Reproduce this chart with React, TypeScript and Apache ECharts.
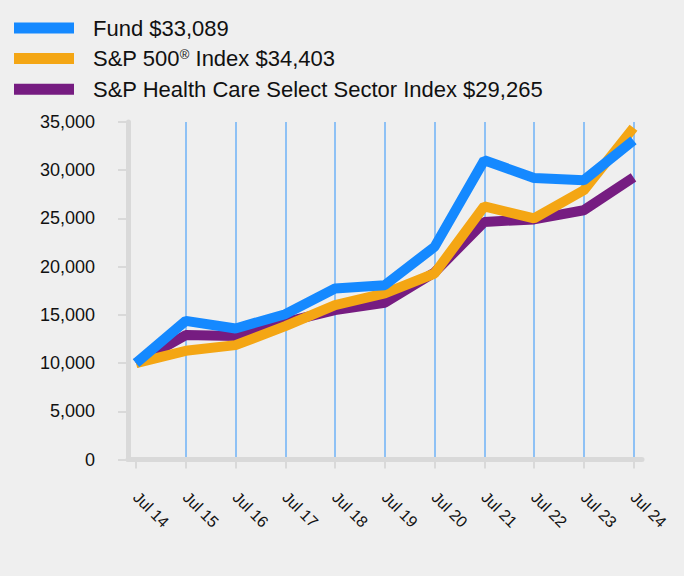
import React, { useEffect, useRef } from "react";
import * as echarts from "echarts";

const categories = ["Jul 14", "Jul 15", "Jul 16", "Jul 17", "Jul 18", "Jul 19", "Jul 20", "Jul 21", "Jul 22", "Jul 23", "Jul 24"];
const fundValues = [10000, 14380, 13590, 15070, 17740, 18080, 22050, 31030, 29200, 28960, 33089];
const sp500Values = [10000, 11270, 11860, 13830, 16010, 17220, 19290, 26260, 25000, 27920, 34403];
const healthValues = [10000, 12900, 12800, 14250, 15490, 16250, 19400, 24640, 24900, 25850, 29265];
const seriesNames = ["Fund $33,089", "S&P 500® Index $34,403", "S&P Health Care Select Sector Index $29,265"];
const yMin = 0;
const yMax = 35000;
const yInterval = 5000;

const FONT = "'Liberation Sans', Arial, Helvetica, sans-serif";
const COLORS = ["#1589FF", "#F4A614", "#761C81"];

export default function App() {
  const ref = useRef<HTMLDivElement>(null);
  useEffect(() => {
    if (!ref.current) return;
    const chart = echarts.init(ref.current, null, { renderer: "svg" });
    const gridTop = 122;
    const gridHeight = 337.5;
    chart.setOption({
      animation: false,
      backgroundColor: "#EFEFEF",
      textStyle: { fontFamily: FONT },
      legend: {
        orient: "vertical",
        left: 14,
        top: 17,
        padding: 0,
        itemWidth: 60,
        itemHeight: 11,
        itemGap: 8.6,
        icon: "rect",
        data: seriesNames,
        formatter: (name: string) => {
          if (name.indexOf("®") >= 0) {
            const parts = name.split("®");
            return "{a|" + parts[0] + "}{sup|®}{a|" + parts[1] + "}";
          }
          return "{a|" + name + "}";
        },
        textStyle: {
          fontFamily: FONT,
          fontSize: 22,
          color: "#111",
          padding: [0, 0, 0, 14],
          rich: {
            a: { fontFamily: FONT, fontSize: 22, lineHeight: 22, color: "#111" },
            sup: { fontFamily: FONT, fontSize: 13, lineHeight: 13, color: "#111", verticalAlign: "top", padding: [0, 0, 9, 0] },
          },
        },
      },
      grid: [
        { left: 128, width: 514, top: gridTop, height: gridHeight, containLabel: false, outerBoundsMode: "none" },
        { left: 136, width: 497.5, top: gridTop, height: gridHeight, containLabel: false, outerBoundsMode: "none" },
      ],
      xAxis: [
        {
          gridIndex: 0,
          type: "value",
          min: 0,
          max: 1,
          axisLine: { show: true, lineStyle: { color: "#D9D9D9", width: 5 } },
          axisTick: { show: false },
          axisLabel: { show: false },
          splitLine: { show: false },
        },
        {
          gridIndex: 1,
          type: "category",
          data: categories,
          boundaryGap: false,
          axisLine: { show: false },
          axisTick: { show: true, length: 9, lineStyle: { color: "#D9D9D9", width: 2 } },
          axisLabel: {
            rotate: -45,
            margin: 35,
            fontSize: 16,
            fontFamily: FONT,
            color: "#111",
          },
          splitLine: { show: true, showMinLine: false, showMaxLine: true, lineStyle: { color: "#6EB2F7", width: 1.5 } },
        },
      ],
      yAxis: [
        {
          gridIndex: 0,
          type: "value",
          min: yMin,
          max: yMax,
          interval: yInterval,
          axisLine: { show: true, lineStyle: { color: "#D9D9D9", width: 5 } },
          axisTick: { show: true, length: 10, lineStyle: { color: "#D9D9D9", width: 2 } },
          axisLabel: {
            margin: 33,
            fontSize: 18,
            fontFamily: FONT,
            color: "#111",
            formatter: (v: number) => v.toLocaleString("en-US"),
          },
          splitLine: { show: false },
        },
        {
          gridIndex: 1,
          type: "value",
          min: yMin,
          max: yMax,
          show: false,
          splitLine: { show: false },
        },
      ],
      series: [
        {
          name: seriesNames[0],
          type: "line",
          xAxisIndex: 1,
          yAxisIndex: 1,
          data: fundValues,
          color: COLORS[0],
          showSymbol: false,
          symbol: "none",
          z: 5,
          lineStyle: { width: 10, color: COLORS[0] },
          itemStyle: { color: COLORS[0] },
        },
        {
          name: seriesNames[1],
          type: "line",
          xAxisIndex: 1,
          yAxisIndex: 1,
          data: sp500Values,
          color: COLORS[1],
          showSymbol: false,
          symbol: "none",
          z: 4,
          lineStyle: { width: 10, color: COLORS[1] },
          itemStyle: { color: COLORS[1] },
        },
        {
          name: seriesNames[2],
          type: "line",
          xAxisIndex: 1,
          yAxisIndex: 1,
          data: healthValues,
          color: COLORS[2],
          showSymbol: false,
          symbol: "none",
          z: 3,
          lineStyle: { width: 10, color: COLORS[2] },
          itemStyle: { color: COLORS[2] },
        },
      ],
    });
    return () => chart.dispose();
  }, []);
  return <div ref={ref} style={{ width: 684, height: 576, position: "absolute", left: 0, top: 0 }} />;
}
